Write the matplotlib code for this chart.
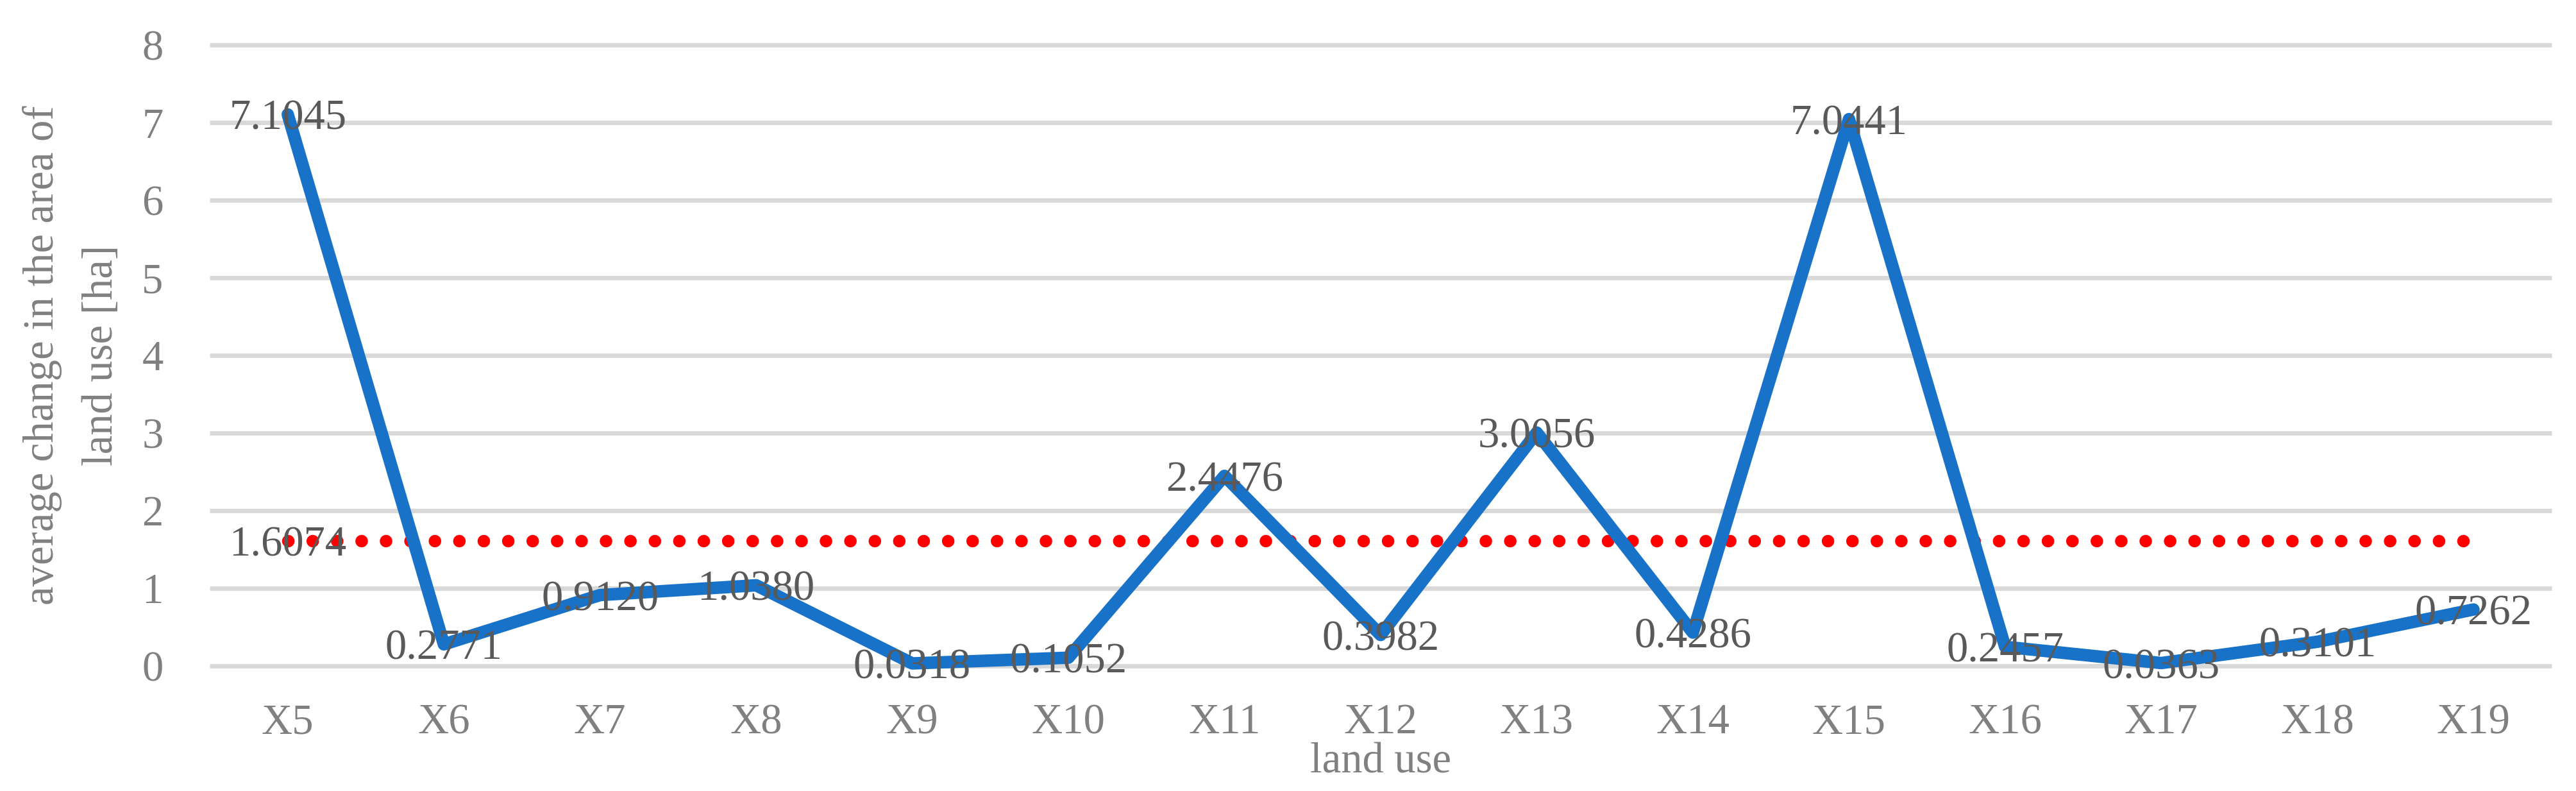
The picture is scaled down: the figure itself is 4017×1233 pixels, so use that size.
import matplotlib.pyplot as plt
import numpy as np

# land use categories and average change in area [ha]
categories = ['X5', 'X6', 'X7', 'X8', 'X9', 'X10', 'X11', 'X12',
              'X13', 'X14', 'X15', 'X16', 'X17', 'X18', 'X19']
avg_change = [7.1045, 0.2771, 0.9120, 1.0380, 0.0318, 0.1052, 2.4476, 0.3982,
              3.0056, 0.4286, 7.0441, 0.2457, 0.0363, 0.3101, 0.7262]
mean_change = 1.6074
y_ticks = [0, 1, 2, 3, 4, 5, 6, 7, 8]

plt.rcParams['font.family'] = ['Liberation Serif', 'DejaVu Serif']

BLUE = '#1873c8'
RED = '#ff0000'
GRID = '#d9d9d9'
LABEL = '#595959'
AXIS = '#808080'
FS = 48


def draw_chart(save_fig):
    """Line chart of average change with the mean as a dotted line"""
    fig = plt.figure(figsize=(40.17, 12.33), dpi=100)
    ax = fig.add_axes([0.0814, 0.1582, 0.9091, 0.7850])

    x = np.arange(len(categories))
    ax.set_xlim(-0.5, len(categories) - 0.5)
    ax.set_ylim(0, 8)

    # horizontal gridlines
    ax.hlines(y_ticks, -0.5, len(categories) - 0.5, colors=GRID, linewidth=5,
              zorder=1, clip_on=False)

    # mean line (red dots)
    ax.plot(x, [mean_change] * len(x), color=RED, linewidth=14,
            linestyle=(0, (0.01, 1.95)), dash_capstyle='round',
            zorder=2, clip_on=False)

    # main series
    ax.plot(x, avg_change, color=BLUE, linewidth=14, solid_joinstyle='round',
            solid_capstyle='round', zorder=3, clip_on=False)

    for xi, v in zip(x, avg_change):
        ax.text(xi, v, '%.4f' % v, ha='center', va='center_baseline',
                fontsize=FS, color=LABEL, zorder=4)
    ax.text(x[0], mean_change, '%.4f' % mean_change, ha='center',
            va='center_baseline', fontsize=FS, color=LABEL, zorder=4)

    ax.set_xticks(x)
    ax.set_xticklabels(categories)
    ax.set_yticks(y_ticks)
    ax.set_yticklabels([str(t) for t in y_ticks])
    ax.tick_params(axis='both', length=0, labelsize=FS, labelcolor=AXIS)
    ax.tick_params(axis='x', pad=42)
    ax.tick_params(axis='y', pad=52)

    for s in ax.spines.values():
        s.set_visible(False)

    ax.set_xlabel('land use', fontsize=FS, color=AXIS)
    ax.xaxis.label.set_va('baseline')
    ax.xaxis.set_label_coords(0.5, -0.1725)

    ax.set_ylabel('average change in the area of\nland use [ha]', fontsize=FS,
                  color=AXIS, linespacing=1.65)
    ax.yaxis.label.set_va('center')
    ax.yaxis.set_label_coords(-0.0589, 0.5)

    fig.savefig(save_fig, dpi=100)


if __name__ == "__main__":
    draw_chart('out.png')
